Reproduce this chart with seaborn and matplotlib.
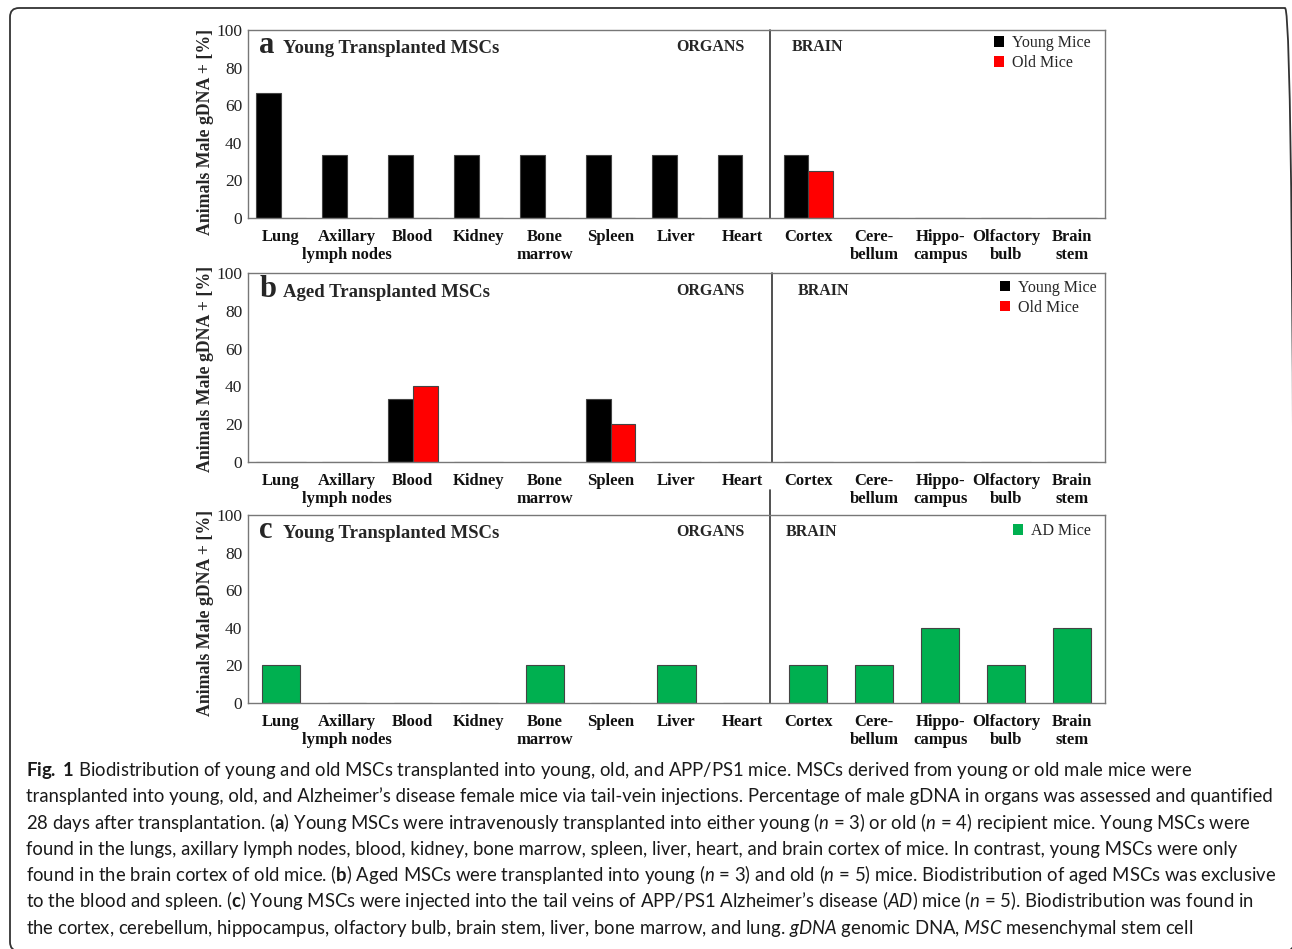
import matplotlib
matplotlib.use("Agg")
import numpy as np
import pandas as pd
import matplotlib.pyplot as plt
from matplotlib.patches import FancyBboxPatch
from matplotlib.transforms import IdentityTransform
import seaborn as sns

# ---------------- data ----------------
organs = ["Lung", "Axillary\nlymph nodes", "Blood", "Kidney", "Bone\nmarrow", "Spleen",
          "Liver", "Heart", "Cortex", "Cere-\nbellum", "Hippo-\ncampus", "Olfactory\nbulb",
          "Brain\nstem"]

young_mice_a = [66.7, 33.3, 33.3, 33.3, 33.3, 33.3, 33.3, 33.3, 33.3, 0, 0, 0, 0]
old_mice_a = [0, 0, 0, 0, 0, 0, 0, 0, 25, 0, 0, 0, 0]
young_mice_b = [0, 0, 33.3, 0, 0, 33.3, 0, 0, 0, 0, 0, 0, 0]
old_mice_b = [0, 0, 40, 0, 0, 20, 0, 0, 0, 0, 0, 0, 0]
ad_mice_c = [20, 0, 0, 0, 20, 0, 20, 0, 20, 20, 40, 20, 40]

yticks = [0, 20, 40, 60, 80, 100]

caption_lines = [
    r"$\mathbf{Fig.}$ $\mathbf{1}$ Biodistribution of young and old MSCs transplanted into young, old, and APP/PS1 mice. MSCs derived from young or old male mice were",
    r"transplanted into young, old, and Alzheimer’s disease female mice via tail-vein injections. Percentage of male gDNA in organs was assessed and quantified",
    r"28 days after transplantation. ($\mathbf{a}$) Young MSCs were intravenously transplanted into either young ($\mathit{n}$ = 3) or old ($\mathit{n}$ = 4) recipient mice. Young MSCs were",
    r"found in the lungs, axillary lymph nodes, blood, kidney, bone marrow, spleen, liver, heart, and brain cortex of mice. In contrast, young MSCs were only",
    r"found in the brain cortex of old mice. ($\mathbf{b}$) Aged MSCs were transplanted into young ($\mathit{n}$ = 3) and old ($\mathit{n}$ = 5) mice. Biodistribution of aged MSCs was exclusive",
    r"to the blood and spleen. ($\mathbf{c}$) Young MSCs were injected into the tail veins of APP/PS1 Alzheimer’s disease ($\mathit{AD}$) mice ($\mathit{n}$ = 5). Biodistribution was found in",
    r"the cortex, cerebellum, hippocampus, olfactory bulb, brain stem, liver, bone marrow, and lung. $\mathit{gDNA}$ genomic DNA, $\mathit{MSC}$ mesenchymal stem cell",
]


def long_df(series):
    frames = [pd.DataFrame({"organ": organs, "group": name, "value": vals})
              for name, vals in series.items()]
    return pd.concat(frames, ignore_index=True)


df_a = long_df({"Young Mice": young_mice_a, "Old Mice": old_mice_a})
df_b = long_df({"Young Mice": young_mice_b, "Old Mice": old_mice_b})
df_c = long_df({"AD Mice": ad_mice_c})

# ---------------- style ----------------
sns.set_theme(style="white")
SERIF = "Liberation Serif"
CAP = "Lato"
plt.rcParams["font.family"] = [SERIF, "DejaVu Serif"]
plt.rcParams["mathtext.fontset"] = "custom"
plt.rcParams["mathtext.rm"] = CAP
plt.rcParams["mathtext.it"] = CAP + ":italic"
plt.rcParams["mathtext.bf"] = CAP + ":bold"

W, H = 1292, 949
fig = plt.figure(figsize=(W / 100, H / 100), dpi=100)
fig.patch.set_facecolor("white")


def px_axes(left, top, right, bottom):
    return fig.add_axes([left / W, 1 - bottom / H, (right - left) / W, (bottom - top) / H])


ax_a = px_axes(248, 30, 1105, 218)
ax_b = px_axes(248, 273, 1105, 462)
ax_c = px_axes(248, 515, 1105, 703)

panels = [
    (ax_a, df_a, {"Young Mice": "black", "Old Mice": "#ff0000"}, 0.75,
     "a", "Young Transplanted MSCs", 0.878, 0.665, 7.424, 1.0, (0.983, 0.973), 0.46),
    (ax_b, df_b, {"Young Mice": "black", "Old Mice": "#ff0000"}, 0.75,
     "b", "Aged Transplanted MSCs", 0.873, 0.671, 7.455, 1.0, (0.990, 0.963), 0.49),
    (ax_c, df_c, {"AD Mice": "#00b050"}, 0.58,
     "c", "Young Transplanted MSCs", 0.878, 0.658, 7.424, 1.133, (0.983, 0.957), 0.48),
]

for (ax, df, pal, bw, letter, title, base_y, brain_x, div_x, div_top,
     leg_anchor, ylab_y) in panels:
    sns.barplot(data=df, x="organ", y="value", hue="group", order=organs,
                palette=pal, saturation=1, width=bw, errorbar=None,
                edgecolor="#444444", linewidth=0.8, ax=ax)

    ax.set_xlim(-0.5, 12.5)
    ax.set_ylim(0, 100)
    ax.set_yticks(yticks)
    ax.set_yticklabels([str(t) for t in yticks], fontsize=12.5, family=SERIF, color="#222222")
    ax.set_xticks(range(len(organs)))
    ax.set_xticklabels(organs, fontsize=12, fontweight="bold", family=SERIF,
                       linespacing=1.15, color="#111111")
    ax.tick_params(axis="x", length=0, pad=8)
    ax.tick_params(axis="y", length=3, width=0.8, color="#666666", pad=1, direction="out")
    ax.set_xlabel("")
    ax.set_ylabel("Animals Male gDNA + [%]", fontsize=12.8, fontweight="bold", family=SERIF)
    ax.yaxis.set_label_coords(-0.040, ylab_y)
    for sp in ax.spines.values():
        sp.set_color("#777777")
        sp.set_linewidth(1.0)

    # separator organs / brain
    ax.axvline(div_x, ymin=0, ymax=div_top, color="#333333", lw=1.2, clip_on=False)

    # panel titles
    ax.text(0.013, base_y, letter, transform=ax.transAxes, fontsize=22,
            fontweight="bold", family=SERIF, va="baseline")
    ax.text(0.041, base_y, title, transform=ax.transAxes, fontsize=13.5,
            fontweight="bold", family=SERIF, va="baseline")
    ax.text(0.539, base_y + 0.012, "ORGANS", transform=ax.transAxes, fontsize=11.5,
            fontweight="bold", family=SERIF, va="baseline", ha="center")
    ax.text(brain_x, base_y + 0.012, "BRAIN", transform=ax.transAxes, fontsize=11.5,
            fontweight="bold", family=SERIF, va="baseline", ha="center")

    # legend
    leg = ax.get_legend()
    handles = leg.legend_handles
    labels = [t.get_text() for t in leg.texts]
    leg.remove()
    for h in handles:
        h.set_edgecolor("none")
    ax.legend(handles, labels, loc="upper right", bbox_to_anchor=leg_anchor,
              frameon=False, prop={"family": SERIF, "size": 11.5},
              handlelength=0.6, handleheight=0.6, handletextpad=0.5,
              labelspacing=0.25, borderaxespad=0, borderpad=0)

# ---------------- caption ----------------
y0 = 776
for i, line in enumerate(caption_lines):
    fig.text(26 / W, 1 - (y0 + i * 26.3) / H, line, fontsize=13.35, family=CAP,
             va="baseline", ha="left", color="#1a1a1a")

# rounded frame around the whole figure
frame = FancyBboxPatch((10, H - 951), 1284, 943, boxstyle="round,pad=0,rounding_size=9",
                       transform=IdentityTransform(), fill=False,
                       edgecolor="#333333", linewidth=1.3)
fig.add_artist(frame)

fig.savefig("out.png", dpi=100)
